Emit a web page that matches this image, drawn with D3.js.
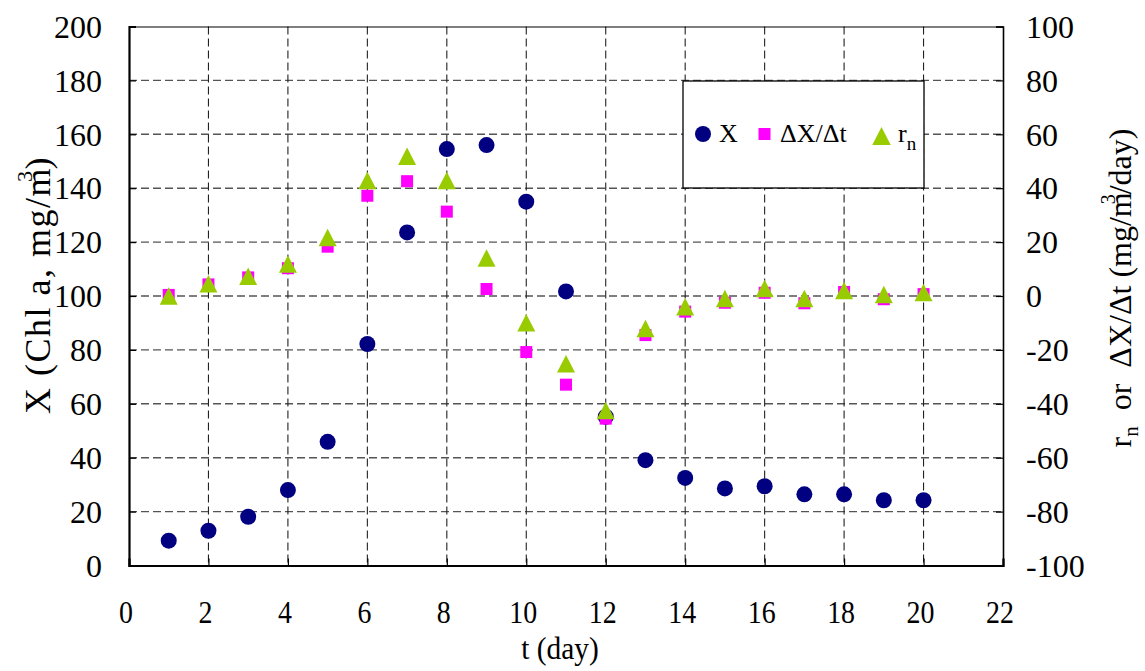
<!DOCTYPE html>
<html>
<head>
<meta charset="utf-8">
<script src="https://cdn.jsdelivr.net/npm/d3@7"></script>
<style>
  html, body { margin: 0; padding: 0; background: #fff; }
</style>
</head>
<body>
<svg id="chart" width="1145" height="671"></svg>
<script>
// Chlorophyll-a concentration and its growth rates over 20 days
const days = [1, 2, 3, 4, 5, 6, 7, 8, 9, 10, 11, 12, 13, 14, 15, 16, 17, 18, 19, 20];
const chlX = [9.2, 12.9, 18.1, 28.0, 45.9, 82.2, 123.6, 154.5, 156.0, 135.0,
              101.7, 55.2, 39.1, 32.5, 28.6, 29.4, 26.4, 26.4, 24.2, 24.2];
const dXdt = [0.4, 4.3, 6.9, 10.3, 18.3, 37.2, 42.6, 31.3, 2.6, -20.8,
              -32.9, -45.5, -14.5, -5.8, -2.5, 1.2, -2.7, 1.5, -1.2, 0.7];
const rN = [0.0, 4.5, 7.3, 11.9, 21.7, 42.9, 51.9, 42.9, 14.1, -9.9,
            -25.1, -42.5, -12.1, -4.0, -0.9, 2.8, -0.9, 2.0, 0.6, 1.3];

const xTicks = [0, 2, 4, 6, 8, 10, 12, 14, 16, 18, 20, 22];
const leftTicks = [0, 20, 40, 60, 80, 100, 120, 140, 160, 180, 200];
const rightTicks = [-100, -80, -60, -40, -20, 0, 20, 40, 60, 80, 100];

const FONT = "'Liberation Serif', 'Times New Roman', Tinos, 'DejaVu Serif', serif";

const svg = d3.select("#chart");
const plot = { left: 129, right: 1003, top: 26.5, bottom: 565.5 };

const x = d3.scaleLinear().domain([0, 22]).range([plot.left, plot.right]);
const yL = d3.scaleLinear().domain([0, 200]).range([plot.bottom, plot.top]);
const yR = d3.scaleLinear().domain([-100, 100]).range([plot.bottom, plot.top]);

const colX = "#000080", colRate = "#ff00ff", colRn = "#99cc00";

// dashed grid
const grid = svg.append("g");
grid.selectAll("line.h").data(leftTicks.filter(v => v > 0 && v < 200)).join("line")
  .attr("x1", plot.left).attr("x2", plot.right)
  .attr("y1", d => yL(d)).attr("y2", d => yL(d))
  .attr("stroke", "#555").attr("stroke-width", 1.4).attr("stroke-dasharray", "8,4");
grid.selectAll("line.v").data(xTicks.filter(v => v > 0 && v < 22)).join("line")
  .attr("x1", d => x(d)).attr("x2", d => x(d))
  .attr("y1", plot.top).attr("y2", plot.bottom)
  .attr("stroke", "#222").attr("stroke-width", 1.1).attr("stroke-dasharray", "8,4");

// axes (ticks pointing inward)
const axB = svg.append("g").attr("transform", `translate(0,${plot.bottom})`)
  .call(d3.axisTop(x).tickValues(xTicks).tickSize(7).tickFormat(""));
const axL = svg.append("g").attr("transform", `translate(${plot.left},0)`)
  .call(d3.axisRight(yL).tickValues(leftTicks).tickSize(7).tickFormat(""));
const axR = svg.append("g").attr("transform", `translate(${plot.right},0)`)
  .call(d3.axisLeft(yR).tickValues(rightTicks).tickSize(7).tickFormat(""));
const axT = svg.append("g").attr("transform", `translate(0,${plot.top})`)
  .call(d3.axisBottom(x).tickValues(xTicks).tickSize(0).tickFormat(""));
[axB, axL, axR, axT].forEach(a => {
  a.select(".domain").attr("stroke", "#000");
  a.selectAll(".tick line").attr("stroke", "#000").attr("stroke-width", 1.2);
});
axB.select(".domain").attr("stroke-width", 2.2);
axL.select(".domain").attr("stroke-width", 2.2);
axR.select(".domain").attr("stroke-width", 1.6);
axT.select(".domain").attr("stroke-width", 1.2);

// all text in one serif group
const txt = svg.append("g").style("font-family", FONT).attr("fill", "#000");
const label = d => String(d);

// tick labels
txt.append("g").selectAll("text").data(xTicks).join("text")
  .attr("transform", d => `translate(${x(d) - 3},623) scale(0.9,1)`)
  .attr("text-anchor", "middle").attr("font-size", 31).text(label);
txt.append("g").selectAll("text").data(leftTicks).join("text")
  .attr("x", 102).attr("y", d => yL(d)).attr("dy", "0.35em")
  .attr("text-anchor", "end").attr("font-size", 32).text(label);
txt.append("g").selectAll("text").data(rightTicks).join("text")
  .attr("x", 1026).attr("y", d => yR(d)).attr("dy", "0.35em")
  .attr("text-anchor", "start").attr("font-size", 32).text(label);

// axis titles
txt.append("text")
  .attr("transform", "translate(560,659) scale(0.92,1)")
  .attr("text-anchor", "middle").attr("font-size", 32).text("t (day)");

const tL = txt.append("text")
  .attr("transform", "translate(50,285) rotate(-90)")
  .attr("text-anchor", "middle").attr("font-size", 36)
  .style("letter-spacing", "1.5px");
tL.append("tspan").text("X (Chl a, mg/m");
tL.append("tspan").attr("font-size", 22).attr("dx", -15).attr("dy", -18).text("3");
tL.append("tspan").attr("dy", 18).text(")");

const tR = txt.append("text")
  .attr("transform", "translate(1131,288) rotate(-90)")
  .attr("text-anchor", "middle").attr("font-size", 32);
tR.append("tspan").text("r");
tR.append("tspan").attr("font-size", 21).attr("dy", 7).text("n");
tR.append("tspan").attr("dy", -7).attr("xml:space", "preserve").text("  or  \u0394X/\u0394t (mg/m");
tR.append("tspan").attr("font-size", 20).attr("dx", -12).attr("dy", -16).text("3");
tR.append("tspan").attr("dy", 16).text("/day)");

// markers
const triPath = (w, h) => `M0,${-h / 2}L${w / 2},${h / 2}L${-w / 2},${h / 2}Z`;
const marks = svg.append("g");
marks.selectAll("circle").data(days).join("circle")
  .attr("cx", (d, i) => x(d)).attr("cy", (d, i) => yL(chlX[i]))
  .attr("r", 8).attr("fill", colX);
marks.selectAll("rect").data(days).join("rect")
  .attr("x", (d, i) => x(d) - 6).attr("y", (d, i) => yR(dXdt[i]) - 6)
  .attr("width", 12).attr("height", 12).attr("fill", colRate);
marks.selectAll("path").data(days).join("path")
  .attr("transform", (d, i) => `translate(${x(d)},${yR(rN[i])})`)
  .attr("d", triPath(18, 17.5)).attr("fill", colRn);

// legend
const lg = svg.append("g").style("font-family", FONT);
lg.append("rect").attr("x", 683).attr("y", 81).attr("width", 241).attr("height", 107)
  .attr("fill", "#fff").attr("stroke", "#000").attr("stroke-width", 1.3);
lg.append("circle").attr("cx", 703).attr("cy", 134).attr("r", 8).attr("fill", colX);
lg.append("text").attr("x", 719).attr("y", 142).attr("font-size", 26).text("X");
lg.append("rect").attr("x", 758.5).attr("y", 128).attr("width", 12).attr("height", 12).attr("fill", colRate);
lg.append("text").attr("x", 780).attr("y", 142).attr("font-size", 26).text("\u0394X/\u0394t");
lg.append("path").attr("transform", "translate(881.5,136)").attr("d", triPath(18.5, 18)).attr("fill", colRn);
const lr = lg.append("text").attr("x", 898).attr("y", 142).attr("font-size", 26);
lr.append("tspan").text("r");
lr.append("tspan").attr("font-size", 19).attr("dy", 8).text("n");
</script>
</body>
</html>
